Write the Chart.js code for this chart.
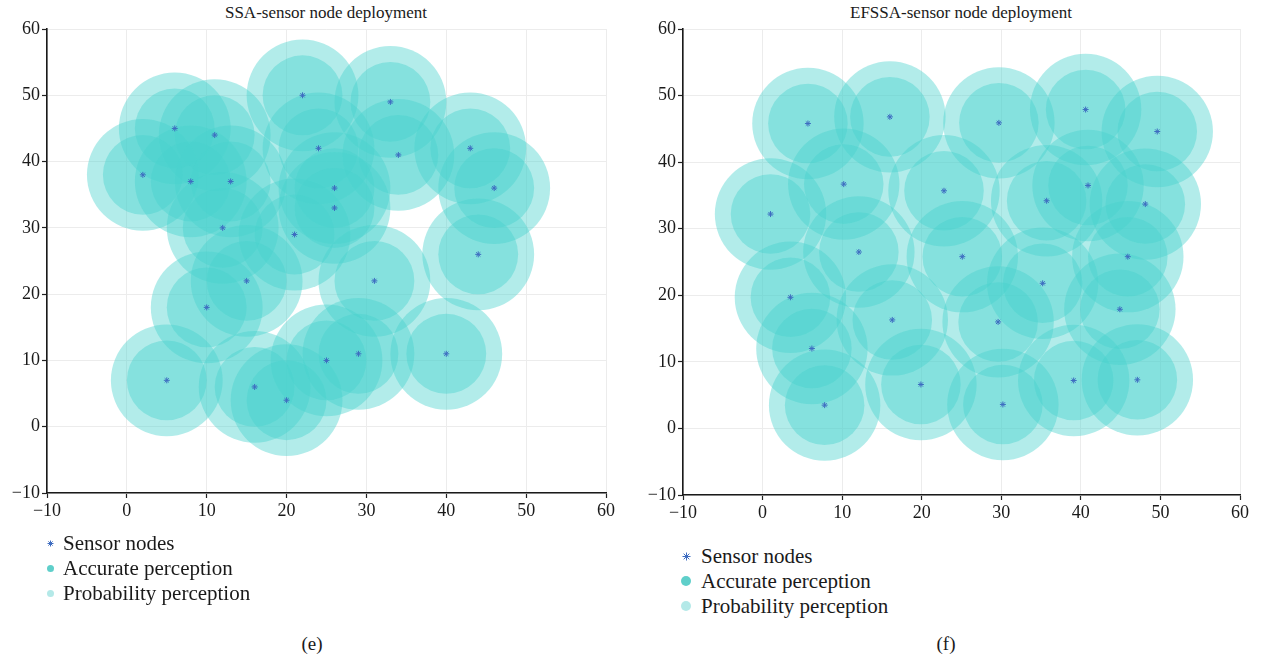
<!DOCTYPE html>
<html>
<head>
<meta charset="utf-8">
<title>Sensor node deployment</title>
<script src="https://cdn.jsdelivr.net/npm/chart.js@4"></script>
<style>
  html, body { margin: 0; padding: 0; background: #ffffff; }
  body { width: 1264px; height: 661px; position: relative; overflow: hidden;
         font-family: "Liberation Serif", "DejaVu Serif", serif; color: #1a1a1a; }
  canvas { position: absolute; top: 0; }
  .title { position: absolute; top: 2px; width: 500px; text-align: center; font-size: 17px; line-height: 22px; }
  .legend-row { position: absolute; font-size: 21px; line-height: 24px; white-space: nowrap; }
  .mark { position: absolute; }
  .caption { position: absolute; top: 633px; width: 60px; text-align: center; font-size: 19px; line-height: 22px; }
</style>
</head>
<body>
<div class="title" style="left:76px;">SSA-sensor node deployment</div>
<div class="title" style="left:711px;">EFSSA-sensor node deployment</div>
<canvas id="ssa" width="632" height="540" style="left:0;"></canvas>
<canvas id="efssa" width="632" height="540" style="left:632px;"></canvas>
<div id="legend-ssa"></div>
<div id="legend-efssa"></div>
<div class="caption" style="left:282px;">(e)</div>
<div class="caption" style="left:916px;">(f)</div>

<script>
// Node positions produced by each deployment algorithm
const ssaX = [6, 11, 2, 8, 13, 12, 22, 33, 24, 34, 43, 46, 26, 26, 21, 44, 15, 10, 31, 5, 16, 20, 25, 29, 40];
const ssaY = [45, 44, 38, 37, 37, 30, 50, 49, 42, 41, 42, 36, 36, 33, 29, 26, 22, 18, 22, 7, 6, 4, 10, 11, 11];

const efssaX = [5.7, 16.0, 29.7, 40.6, 49.6, 10.2, 22.8, 1.0, 35.7, 40.9, 48.1, 12.1, 25.1, 45.9, 3.5, 35.2, 16.3, 29.6, 44.9, 6.2, 7.8, 19.9, 30.2, 39.1, 47.1];
const efssaY = [45.8, 46.8, 45.9, 47.9, 44.6, 36.7, 35.7, 32.2, 34.2, 36.5, 33.7, 26.5, 25.8, 25.8, 19.7, 21.8, 16.3, 16.0, 17.9, 12.0, 3.5, 6.6, 3.6, 7.2, 7.3];

// Sensing radii (in axis units)
const accurateRadius = 5;
const probabilityRadius = 7;

// Axis range and tick labels
const axisTicks = [-10, 0, 10, 20, 30, 40, 50, 60];

const seriesNames = ['Sensor nodes', 'Accurate perception', 'Probability perception'];

const NODE_COLOR = '#3d6cc0';
const RANGE_FILL = 'rgba(72, 209, 204, 0.42)';

function toPoints(xs, ys) {
  return xs.map((x, i) => ({ x: x, y: ys[i] }));
}

const tickFont = { family: '"Liberation Serif", "DejaVu Serif", serif', size: 18 };
const fmt = (v) => String(v).replace('-', '\u2212');

function axis(sizeKey, size) {
  return {
    type: 'linear',
    min: axisTicks[0],
    max: axisTicks[axisTicks.length - 1],
    afterBuildTicks: (s) => { s.ticks = axisTicks.map(v => ({ value: v })); },
    afterFit: (s) => { s[sizeKey] = size; },
    grid: { color: '#ececec', lineWidth: 1, tickColor: '#222', tickLength: 5, tickWidth: 1.2 },
    border: { color: '#1a1a1a', width: 1.6 },
    ticks: { font: tickFont, color: '#1a1a1a', padding: 2, maxRotation: 0, callback: fmt }
  };
}

function makeChart(id, xs, ys, yAxisWidth, xAxisHeight, rightPad) {
  const chart = new Chart(document.getElementById(id), {
    type: 'scatter',
    data: {
      datasets: [
        { label: seriesNames[0], data: toPoints(xs, ys), pointRadius: 3, pointStyle: 'star',
          pointBorderColor: NODE_COLOR, pointBackgroundColor: NODE_COLOR, pointBorderWidth: 1 },
        { label: seriesNames[1], data: toPoints(xs, ys), pointRadius: 0, pointStyle: 'circle',
          pointBackgroundColor: RANGE_FILL, pointBorderColor: 'rgba(0,0,0,0)', pointBorderWidth: 0 },
        { label: seriesNames[2], data: toPoints(xs, ys), pointRadius: 0, pointStyle: 'circle',
          pointBackgroundColor: RANGE_FILL, pointBorderColor: 'rgba(0,0,0,0)', pointBorderWidth: 0 }
      ]
    },
    options: {
      responsive: false,
      animation: false,
      events: [],
      clip: false,
      layout: { autoPadding: false, padding: { top: 29, left: 0, right: rightPad, bottom: 0 } },
      plugins: { legend: { display: false }, title: { display: false }, tooltip: { enabled: false } },
      scales: { x: axis('height', xAxisHeight), y: axis('width', yAxisWidth) }
    }
  });
  // Sensing ranges are given in axis units; convert them to pixel radii via the x scale
  const sx = chart.scales.x;
  const unit = (u) => Math.abs(sx.getPixelForValue(u) - sx.getPixelForValue(0));
  chart.data.datasets[1].pointRadius = unit(accurateRadius);
  chart.data.datasets[2].pointRadius = unit(probabilityRadius);
  chart.update('none');
  return chart;
}

makeChart('ssa', ssaX, ssaY, 47, 47, 26);
makeChart('efssa', efssaX, efssaY, 51, 45, 24);

// Vertical legends below each panel
function asteriskSvg(size, color) {
  const c = size / 2, r = size / 2 - 0.5;
  let lines = '';
  for (let k = 0; k < 4; k++) {
    const a = k * Math.PI / 4;
    const dx = Math.cos(a) * r, dy = Math.sin(a) * r;
    lines += '<line x1="' + (c - dx) + '" y1="' + (c - dy) + '" x2="' + (c + dx) + '" y2="' + (c + dy) + '" stroke="' + color + '" stroke-width="1"/>';
  }
  return '<svg width="' + size + '" height="' + size + '" viewBox="0 0 ' + size + ' ' + size + '">' + lines + '</svg>';
}

function buildLegend(id, markX, textX, rowYs, starSize, dotSize) {
  const host = document.getElementById(id);
  const colors = ['', '#5fcfca', '#b4e9e8'];
  seriesNames.forEach((name, i) => {
    const cy = rowYs[i];
    const row = document.createElement('div');
    row.className = 'legend-row';
    row.style.left = textX + 'px';
    row.style.top = (cy - 12) + 'px';
    row.textContent = name;
    host.appendChild(row);
    const m = document.createElement('div');
    m.className = 'mark';
    if (i === 0) {
      m.innerHTML = asteriskSvg(starSize, NODE_COLOR);
      m.style.left = (markX - starSize / 2) + 'px';
      m.style.top = (cy - starSize / 2) + 'px';
      m.style.width = starSize + 'px';
      m.style.height = starSize + 'px';
      m.style.lineHeight = '0';
    } else {
      m.style.left = (markX - dotSize / 2) + 'px';
      m.style.top = (cy - dotSize / 2) + 'px';
      m.style.width = dotSize + 'px';
      m.style.height = dotSize + 'px';
      m.style.borderRadius = '50%';
      m.style.background = colors[i];
    }
    host.appendChild(m);
  });
}

buildLegend('legend-ssa', 50, 63, [543, 568, 593], 7, 7);
buildLegend('legend-efssa', 686, 701, [556, 581, 606], 9, 10);
</script>
</body>
</html>
